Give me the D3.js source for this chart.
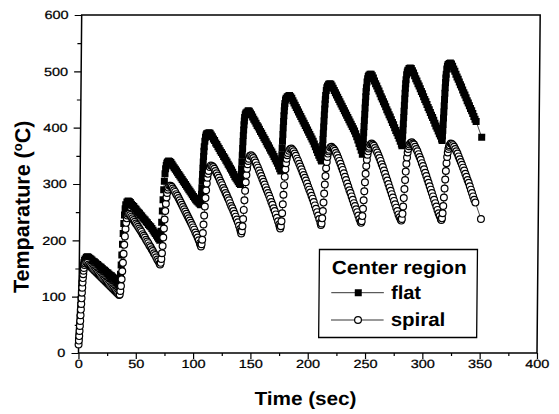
<!DOCTYPE html>
<html>
<head>
<meta charset="utf-8">
<script src="https://cdn.jsdelivr.net/npm/d3@7"></script>
<style>
  html, body { margin: 0; padding: 0; background: #fff; }
  svg { display: block; }
</style>
</head>
<body>
<svg id="chart" width="559" height="414"></svg>
<script>
// Axis ticks
const xMajorTicks = [0, 50, 100, 150, 200, 250, 300, 350, 400];
const xMinorTicks = [25, 75, 125, 175, 225, 275, 325, 375];
const yMajorTicks = [0, 100, 200, 300, 400, 500, 600];
const yMinorTicks = [50, 150, 250, 350, 450, 550];

// Legend entries
const legendTitle = "Center region";
const seriesNames = ["flat", "spiral"];

// Center-region temperature, flat heater: [time (sec), temperature (°C)]
const flatData = [
  [0,22],[0.25,30],[0.5,40],[0.75,51],[1,62],[1.25,73],[1.5,84],[1.75,95],[2,105],[2.25,115],[2.5,124],[2.75,132],[3,139],[3.25,146],[3.5,151],[3.75,156],[4,160],[4.5,164],[5,167],[6,170],[7,171],
  [8,170],[9,168],[10,167],[11,165],[12,163],[13,162],[14,160],[15,158],[16,157],[17,155],[18,153],[19,152],[20,150],[21,148],[22,147],[23,145],[24,143],[25,142],[26,140],[27,138],[28,137],[29,135],[30,133],[31,131],[32,129],[33,127],[34,125],[35,123],
  [35.5,128],[36,140],[36.5,156],[37,174],[37.5,193],[38,212],[38.5,230],[39,245],[39.5,256],[40,263],[41,268],[42,270],
  [43,269],[44,267],[45,264],[46,262],[47,260],[48,257],[49,255],[50,252],[51,250],[52,248],[53,245],[54,243],[55,240],[56,238],[57,236],[58,233],[59,231],[60,228],[61,226],[62,224],[63,221],[64,218],[65,215],[66,212],[67,209],[68,206],[69,203],[70,200],
  [70.5,205],[71,216],[71.5,232],[72,252],[72.5,272],[73,290],[73.5,305],[74,318],[74.5,327],[75,333],[75.5,337],[76,339],[77,341],
  [78,340],[79,338],[80,335],[81,332],[82,329],[83,326],[84,323],[85,320],[86,317],[87,314],[88,311],[89,308],[90,305],[91,302],[92,299],[93,296],[94,293],[95,290],[96,287],[97,284],[98,281],[99,278],[100,275],[101,272],[102,270],[103,268],[104,266],[105,264],[105.5,263],
  [105.75,272],[106,282],[106.25,293],[106.5,305],[106.75,317],[107,328],[107.25,339],[107.5,349],[107.75,358],[108,366],[108.5,376],[109,383],[109.5,387],[110,389],[111,390],[112,391],
  [113,390],[114,387],[115,384],[116,380],[117,377],[118,373],[119,370],[120,366],[121,363],[122,359],[123,356],[124,353],[125,349],[126,346],[127,342],[128,339],[129,335],[130,332],[131,328],[132,325],[133,321],[134,317],[135,313],[136,310],[137,307],[138,304],[139,301],[140,299],
  [140.25,306],[140.5,316],[140.75,327],[141,339],[141.25,351],[141.5,363],[141.75,375],[142,386],[142.25,396],[142.5,405],[142.75,412],[143,418],[143.5,423],[144,426],[145,428],[146,430],
  [147,429],[148,426],[149,423],[150,419],[151,415],[152,412],[153,408],[154,404],[155,401],[156,397],[157,393],[158,390],[159,386],[160,382],[161,379],[162,375],[163,371],[164,368],[165,364],[166,360],[167,357],[168,353],[169,349],[170,345],[171,341],[172,337],[173,332],[174,327],[175,323],
  [175.25,331],[175.5,341],[175.75,352],[176,364],[176.25,376],[176.5,388],[176.75,400],[177,411],[177.25,421],[177.5,430],[177.75,437],[178,443],[178.5,449],[179,452],[180,455],[181,456],[182,457],
  [183,455],[184,452],[185,448],[186,444],[187,440],[188,436],[189,432],[190,428],[191,424],[192,420],[193,416],[194,412],[195,408],[196,404],[197,400],[198,396],[199,392],[200,388],[201,384],[202,380],[203,376],[204,371],[205,366],[206,361],[207,356],[208,351],[209,347],[210,343],[210.5,341],
  [210.75,349],[211,358],[211.25,368],[211.5,379],[211.75,390],[212,401],[212.25,412],[212.5,423],[212.75,433],[213,442],[213.25,450],[213.5,457],[214,466],[214.5,471],[215,474],[216,477],[217,478],
  [218,477],[219,474],[220,470],[221,466],[222,462],[223,458],[224,454],[225,450],[226,446],[227,442],[228,438],[229,434],[230,430],[231,426],[232,422],[233,418],[234,414],[235,410],[236,406],[237,402],[238,398],[239,394],[240,389],[241,384],[242,378],[243,372],[244,366],[245,360],[246,353],
  [246.25,361],[246.5,370],[246.75,380],[247,391],[247.25,402],[247.5,413],[247.75,424],[248,435],[248.25,445],[248.5,455],[248.75,464],[249,471],[249.5,481],[250,487],[250.5,491],[251,493],[252,495],[253,495],
  [254,492],[255,488],[256,483],[257,478],[258,474],[259,469],[260,465],[261,460],[262,455],[263,451],[264,446],[265,442],[266,437],[267,432],[268,428],[269,423],[270,419],[271,414],[272,409],[273,405],[274,400],[275,395],[276,391],[277,386],[278,381],[279,376],[280,371],[280.5,368],
  [280.75,375],[281,385],[281.25,396],[281.5,407],[281.75,418],[282,429],[282.25,440],[282.5,451],[282.75,461],[283,470],[283.25,478],[283.5,485],[284,494],[284.5,499],[285,502],[286,505],[287,506],
  [288,505],[289,501],[290,497],[291,492],[292,487],[293,483],[294,478],[295,474],[296,469],[297,464],[298,460],[299,455],[300,450],[301,446],[302,441],[303,436],[304,432],[305,427],[306,422],[307,418],[308,413],[309,408],[310,403],[311,399],[312,394],[313,389],[314,385],[315,380],[315.5,377],
  [315.75,385],[316,395],[316.25,406],[316.5,417],[316.75,428],[317,439],[317.25,450],[317.5,461],[317.75,471],[318,480],[318.25,488],[318.5,495],[319,504],[319.5,509],[320,512],[321,514],[322,515],
  [323,513],[324,509],[325,504],[326,500],[327,495],[328,490],[329,486],[330,481],[331,476],[332,472],[333,467],[334,462],[335,458],[336,453],[337,448],[338,444],[339,439],[340,434],[341,430],[342,425],[343,420],[344,415],[345,411],
  [350,383]
];

// Center-region temperature, spiral heater: [time (sec), temperature (°C)]
const spiralData = [
  [0,15],[0.25,22],[0.5,30],[0.75,39],[1,48],[1.25,57],[1.5,67],[1.75,77],[2,87],[2.25,97],[2.5,107],[2.75,116],[3,125],[3.25,133],[3.5,140],[3.75,146],[4,151],[4.5,156],[5,159],[6,161],
  [7,160],[8,157],[9,155],[10,153],[11,151],[12,149],[13,147],[14,145],[15,143],[16,141],[17,139],[18,137],[19,135],[20,133],[21,131],[22,129],[23,127],[24,125],[25,123],[26,121],[27,119],[28,117],[29,115],[30,113],[31,111],[32,109],[33,107],[34,105],[35,103],
  [35.5,104],[36,110],[36.5,119],[37,131],[37.5,145],[38,160],[38.5,176],[39,192],[39.5,207],[40,220],[40.5,231],[41,239],[41.5,244],[42,247],[43,247],
  [44,245],[45,242],[46,239],[47,236],[48,233],[49,230],[50,227],[51,224],[52,221],[53,218],[54,215],[55,211],[56,208],[57,205],[58,201],[59,198],[60,195],[61,191],[62,188],[63,184],[64,181],[65,177],[66,174],[67,170],[68,166],[69,163],[70,159],[70.5,157],
  [71,160],[71.5,167],[72,177],[72.5,190],[73,205],[73.5,221],[74,237],[74.5,252],[75,265],[75.5,276],[76,284],[76.5,290],[77,294],[78,297],[79,297],
  [80,295],[81,292],[82,289],[83,286],[84,282],[85,279],[86,275],[87,271],[88,267],[89,263],[90,259],[91,255],[92,251],[93,247],[94,243],[95,239],[96,235],[97,231],[98,227],[99,223],[100,219],[101,214],[102,210],[103,205],[104,200],[105,195],[105.5,192],[106,189],
  [106.5,193],[107,201],[107.5,213],[108,228],[108.5,244],[109,260],[109.5,275],[110,289],[110.5,301],[111,311],[111.5,318],[112,323],[113,330],[114,333],
  [115,332],[116,330],[117,327],[118,323],[119,319],[120,315],[121,311],[122,306],[123,302],[124,298],[125,293],[126,289],[127,284],[128,280],[129,275],[130,271],[131,266],[132,261],[133,257],[134,252],[135,247],[136,242],[137,237],[138,232],[139,226],[140,220],[140.5,216],[141,212],
  [141.5,216],[142,225],[142.5,238],[143,254],[143.5,271],[144,288],[144.5,303],[145,316],[145.5,327],[146,335],[146.5,341],[147,345],[148,350],[149,351],
  [150,349],[151,346],[152,342],[153,338],[154,333],[155,329],[156,324],[157,319],[158,314],[159,309],[160,304],[161,299],[162,294],[163,289],[164,284],[165,279],[166,274],[167,268],[168,263],[169,257],[170,252],[171,246],[172,240],[173,234],[174,228],[174.5,224],[175,221],
  [175.5,225],[176,234],[176.5,248],[177,264],[177.5,281],[178,298],[178.5,313],[179,326],[179.5,337],[180,345],[180.5,351],[181,355],[182,359],[183,362],[184,363],
  [185,361],[186,358],[187,354],[188,350],[189,345],[190,341],[191,336],[192,331],[193,326],[194,321],[195,316],[196,311],[197,306],[198,301],[199,295],[200,290],[201,285],[202,279],[203,274],[204,268],[205,262],[206,256],[207,250],[208,244],[209,238],[210,231],[210.5,227],
  [211,230],[211.5,239],[212,252],[212.5,267],[213,283],[213.5,299],[214,314],[214.5,328],[215,339],[215.5,348],[216,354],[216.5,358],[217,361],[218,365],[219,366],
  [220,364],[221,362],[222,359],[223,355],[224,351],[225,346],[226,341],[227,336],[228,330],[229,325],[230,319],[231,313],[232,307],[233,301],[234,295],[235,289],[236,284],[237,278],[238,272],[239,266],[240,261],[241,255],[242,250],[243,244],[244,238],[245,233],[245.5,231],
  [246,234],[246.5,243],[247,256],[247.5,271],[248,287],[248.5,303],[249,318],[249.5,332],[250,343],[250.5,352],[251,358],[251.5,363],[252,366],[253,370],[254,372],
  [255,370],[256,368],[257,364],[258,360],[259,356],[260,351],[261,346],[262,341],[263,335],[264,330],[265,324],[266,318],[267,312],[268,306],[269,300],[270,294],[271,288],[272,282],[273,276],[274,270],[275,264],[276,258],[277,252],[278,246],[279,241],[280,237],[280.5,235],
  [281,238],[281.5,247],[282,260],[282.5,275],[283,291],[283.5,307],[284,322],[284.5,336],[285,347],[285.5,356],[286,362],[286.5,367],[287,370],[288,373],[289,374],
  [290,372],[291,370],[292,366],[293,362],[294,358],[295,353],[296,348],[297,343],[298,337],[299,332],[300,326],[301,320],[302,314],[303,308],[304,302],[305,296],[306,290],[307,284],[308,278],[309,272],[310,266],[311,260],[312,254],[313,248],[314,243],[315,238],[315.5,236],
  [316,239],[316.5,248],[317,261],[317.5,276],[318,292],[318.5,308],[319,323],[319.5,337],[320,348],[320.5,356],[321,362],[321.5,366],[322,369],[323,372],
  [324,371],[325,369],[326,366],[327,362],[328,358],[329,354],[330,349],[331,344],[332,339],[333,334],[334,329],[335,324],[336,318],[337,313],[338,307],[339,302],[340,296],[341,290],[342,284],[343,278],[344,272],[345,267],
  [350,238]
];

const svg = d3.select("#chart");
const plot = { left: 78.5, right: 537, top: 15, bottom: 353 };

const x = d3.scaleLinear().domain([0, 400]).range([plot.left, plot.right]);
const y = d3.scaleLinear().domain([0, 600]).range([plot.bottom, plot.top]);

// whole figure leans slightly, pivoting on the time axis
const root = svg.append("g")
  .attr("transform", `translate(0,${plot.bottom}) skewX(-0.54) translate(0,${-plot.bottom})`);

const tickFont = "'Liberation Sans', Arial, sans-serif";

// bottom axis
const xMinor = root.append("g").attr("transform", `translate(0,${plot.bottom})`)
  .call(d3.axisBottom(x).tickValues(xMinorTicks).tickSize(3).tickFormat(""));
const xMajor = root.append("g").attr("transform", `translate(0,${plot.bottom})`)
  .call(d3.axisBottom(x).tickValues(xMajorTicks).tickSize(6).tickPadding(0).tickFormat(d3.format("d")));

// left axis
const yMinor = root.append("g").attr("transform", `translate(${plot.left},0)`)
  .call(d3.axisLeft(y).tickValues(yMinorTicks).tickSize(4).tickFormat(""));
const yMajor = root.append("g").attr("transform", `translate(${plot.left},0)`)
  .call(d3.axisLeft(y).tickValues(yMajorTicks).tickSize(7).tickPadding(4).tickFormat(d3.format("d")));

[xMinor, xMajor, yMinor, yMajor].forEach(g => {
  g.select(".domain").remove();
  g.selectAll("line").attr("stroke", "#000").attr("stroke-width", 1.2);
  g.selectAll("text")
    .attr("fill", "#000")
    .attr("stroke", "#000").attr("stroke-width", 0.25)
    .style("font-family", tickFont)
    .style("font-size", "12px")
    .attr("transform", "scale(1.2,1)");
});

// frame
root.append("rect")
  .attr("x", plot.left).attr("y", plot.top)
  .attr("width", plot.right - plot.left).attr("height", plot.bottom - plot.top)
  .attr("fill", "none").attr("stroke", "#000").attr("stroke-width", 1.5);

// series
const line = d3.line().x(d => x(d[0])).y(d => y(d[1]));
const sq = 7;

root.append("path").datum(flatData)
  .attr("d", line).attr("fill", "none").attr("stroke", "#000").attr("stroke-width", 0.7);
root.append("g").selectAll("rect").data(flatData).join("rect")
  .attr("x", d => x(d[0]) - sq / 2).attr("y", d => y(d[1]) - sq / 2)
  .attr("width", sq).attr("height", sq).attr("fill", "#000");

root.append("path").datum(spiralData)
  .attr("d", line).attr("fill", "none").attr("stroke", "#000").attr("stroke-width", 0.7);
root.append("g").selectAll("circle").data(spiralData).join("circle")
  .attr("cx", d => x(d[0])).attr("cy", d => y(d[1])).attr("r", 3.4)
  .attr("fill", "#fff").attr("stroke", "#000").attr("stroke-width", 1.2);

// axis titles
const titleFont = "'Liberation Sans', Arial, sans-serif";
root.append("text")
  .attr("x", 255).attr("y", 405)
  .attr("textLength", 102).attr("lengthAdjust", "spacingAndGlyphs")
  .style("font-family", titleFont).style("font-weight", "bold").style("font-size", "19px")
  .text("Time (sec)");

const yTitle = root.append("text")
  .attr("transform", "translate(28,293) rotate(-90)")
  .style("font-family", titleFont).style("font-weight", "bold").style("font-size", "21.5px");
yTitle.append("tspan").text("Temparature (");
yTitle.append("tspan").attr("dy", -8).style("font-size", "13px").text("o");
yTitle.append("tspan").attr("dy", 8).text("C)");

// legend
const lg = root.append("g");
lg.append("rect")
  .attr("x", 318.5).attr("y", 249.5).attr("width", 158).attr("height", 88)
  .attr("fill", "#fff").attr("stroke", "#000").attr("stroke-width", 1.3);
lg.append("text")
  .attr("x", 331).attr("y", 274.5)
  .attr("textLength", 135).attr("lengthAdjust", "spacingAndGlyphs")
  .style("font-family", titleFont).style("font-weight", "bold").style("font-size", "19px")
  .text(legendTitle);

const rowY = [292.7, 320];
const textY = [299.5, 326];
const textW = [30, 54.5];
seriesNames.forEach((name, i) => {
  lg.append("line")
    .attr("x1", 330.7).attr("x2", 383.3).attr("y1", rowY[i]).attr("y2", rowY[i])
    .attr("stroke", "#000").attr("stroke-width", 0.8);
  if (i === 0) {
    lg.append("rect").attr("x", 357.7 - 3.5).attr("y", rowY[i] - 3.5)
      .attr("width", 7).attr("height", 7).attr("fill", "#000");
  } else {
    lg.append("circle").attr("cx", 357.7).attr("cy", rowY[i]).attr("r", 3.4)
      .attr("fill", "#fff").attr("stroke", "#000").attr("stroke-width", 1.2);
  }
  lg.append("text")
    .attr("x", 390.5).attr("y", textY[i])
    .attr("textLength", textW[i]).attr("lengthAdjust", "spacingAndGlyphs")
    .style("font-family", titleFont).style("font-weight", "bold").style("font-size", "19px")
    .text(name);
});
</script>
</body>
</html>
